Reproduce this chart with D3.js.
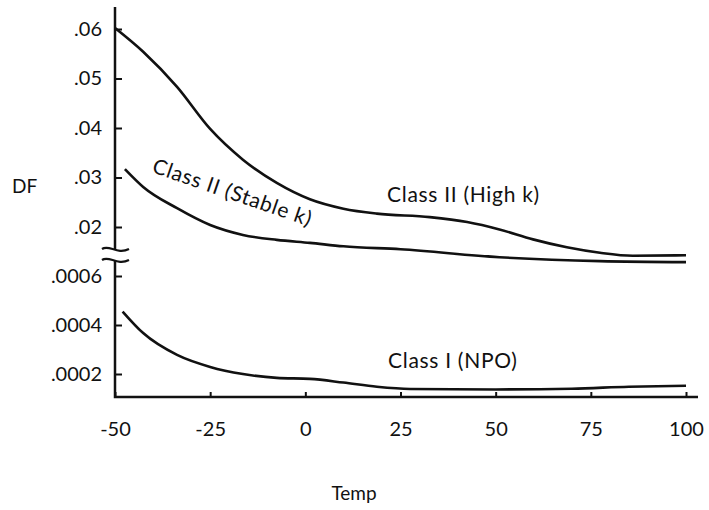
<!DOCTYPE html>
<html>
<head>
<meta charset="utf-8">
<script src="https://cdn.jsdelivr.net/npm/d3@7"></script>
<style>
  body { margin: 0; background: #fff; }
  svg text { font-family: Lato, "DejaVu Sans", sans-serif; fill: #111; }
</style>
</head>
<body>
<div id="chart"></div>
<script>
const width = 709, height = 510;

// temperatures (x) and DF values
const highKTemp  = [-50, -42.6, -33.7, -25, -16.4, -7.5, 1.2, 10, 18.8, 32.7, 42.5, 51, 59.8, 68.7, 77.4, 86, 100];
const highKDF    = [.0602, .0554, .0483, .0398, .0336, .0289, .0256, .0237, .0227, .0220, .0210, .0195, .0175, .0159, .0148, .0142, .0143];
const stableTemp = [-47.4, -42.6, -33.7, -25, -16.4, -7.5, 1.2, 10, 25, 51, 77.4, 100];
const stableDF   = [.0317, .0281, .0238, .0204, .0184, .0174, .0168, .0161, .0155, .0139, .0131, .0129];
const npoTemp    = [-48, -42.6, -33.7, -25, -16.4, -7.5, 1.2, 10, 18.8, 27.5, 50, 70, 85, 100];
const npoDF      = [.000455, .000367, .000278, .000229, .000200, .000184, .000180, .000165, .000148, .000139, .000137, .000140, .000148, .000152];

const xTicks     = [-50, -25, 0, 25, 50, 75, 100];
const upperTicks = [.02, .03, .04, .05, .06];
const lowerTicks = [.0002, .0004, .0006];

const svg = d3.select('#chart')
              .append('svg')
              .attr('width', width)
              .attr('height', height);

const xScale = d3.scaleLinear().domain([-50, 100]).range([115, 686]);
const yUpper = d3.scaleLinear().domain([.02, .06]).range([227, 29]);
const yLower = d3.scaleLinear().domain([.0002, .0006]).range([374, 276]);

// axes (ticks point inward, domain drawn by hand because of the break)
const xAxis = d3.axisBottom(xScale).tickValues(xTicks).tickSizeInner(-5).tickSizeOuter(0).tickPadding(25)
                .tickFormat(d => String(d));
const upAxis = d3.axisLeft(yUpper).tickValues(upperTicks).tickSizeInner(-7).tickSizeOuter(0).tickPadding(13)
                 .tickFormat(d => d3.format('.2f')(d).replace(/^0/, ''));
const lowAxis = d3.axisLeft(yLower).tickValues(lowerTicks).tickSizeInner(-7).tickSizeOuter(0).tickPadding(13)
                 .tickFormat(d => d3.format('.4f')(d).replace(/^0/, ''));

function styleAxis(g) {
    g.select('.domain').remove();
    g.selectAll('.tick line').attr('stroke', '#111').attr('stroke-width', 2);
    g.selectAll('.tick text').attr('font-size', 20).style('fill', '#111');
}

svg.append('g').attr('transform', `translate(0,397)`).call(xAxis).call(styleAxis);
svg.append('g').attr('transform', `translate(${xScale(-50)},0)`).call(upAxis).call(styleAxis);
svg.append('g').attr('transform', `translate(${xScale(-50)},0)`).call(lowAxis).call(styleAxis);

const x0 = xScale(-50);
const axisPaths = [
    [[x0, 7], [x0, 250]],
    [[x0, 261], [x0, 397], [xScale(100) + 12, 397]]
];
svg.selectAll('.axisline')
    .data(axisPaths)
    .enter()
    .append('path')
    .attr('class', 'axisline')
    .attr('d', d => d3.line()(d))
    .attr('fill', 'none')
    .attr('stroke', '#111')
    .attr('stroke-width', 2.5);

// break marks
[250, 261].forEach(yb => {
    svg.append('path')
        .attr('d', `M${x0 - 13},${yb - 1} C${x0 - 6},${yb - 6} ${x0 + 2},${yb + 5} ${x0 + 14},${yb - 1}`)
        .attr('fill', 'none')
        .attr('stroke', '#111')
        .attr('stroke-width', 2.2);
});

// curves
const line = d3.line().curve(d3.curveMonotoneX);
const series = [
    { t: highKTemp,  v: highKDF,  y: yUpper },
    { t: stableTemp, v: stableDF, y: yUpper },
    { t: npoTemp,    v: npoDF,    y: yLower }
];
svg.selectAll('.curve')
    .data(series)
    .enter()
    .append('path')
    .attr('class', 'curve')
    .attr('d', s => line(s.t.map((t, i) => [xScale(t), s.y(s.v[i])])))
    .attr('fill', 'none')
    .attr('stroke', '#111')
    .attr('stroke-width', 2.6)
    .attr('stroke-linejoin', 'round');

// labels
svg.append('text').attr('x', 12).attr('y', 193).attr('font-size', 19).text('DF');
svg.append('text').attr('x', 354).attr('y', 500).attr('font-size', 19).attr('text-anchor', 'middle').text('Temp');
svg.append('text').attr('x', 387).attr('y', 202).attr('font-size', 21).attr('letter-spacing', 0.7).text('Class II (High k)');
svg.append('text').attr('x', 388).attr('y', 368).attr('font-size', 21).attr('letter-spacing', 0.7).text('Class I (NPO)');
svg.append('text')
    .attr('transform', 'translate(151,172) rotate(19)')
    .attr('font-size', 21)
    .attr('letter-spacing', 0.7)
    .text('Class II (Stable k)');
</script>
</body>
</html>
